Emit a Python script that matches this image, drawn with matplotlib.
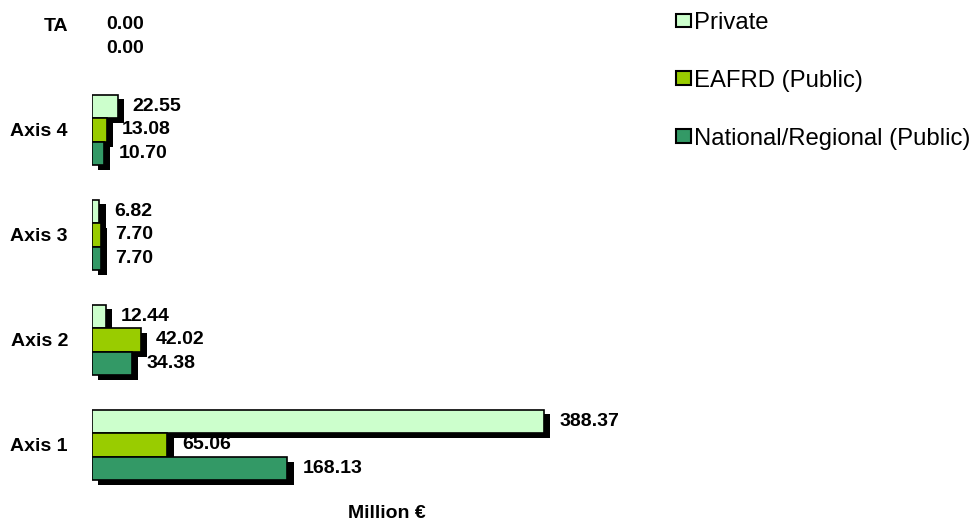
import numpy as np
import matplotlib
matplotlib.use("Agg")
import matplotlib.pyplot as plt
import matplotlib.patheffects as pe
from matplotlib.patches import Patch

plt.rcParams['font.family'] = ['Liberation Sans', 'DejaVu Sans']

categories = ["Axis 1", "Axis 2", "Axis 3", "Axis 4", "TA"]
series_names = ["Private", "EAFRD (Public)", "National/Regional (Public)"]
private = [388.37, 12.44, 6.82, 22.55, np.nan]
eafrd = [65.06, 42.02, 7.70, 13.08, 0.00]
national = [168.13, 34.38, 7.70, 10.70, 0.00]
colors = ["#CCFFCC", "#99CC00", "#339966"]
xlabel = "Million €"

fig = plt.figure(figsize=(9.77, 5.23), dpi=100)
ax = fig.add_axes([0.0937, 0.0488, 0.5724, 0.9536])

y = np.arange(len(categories))
h = 0.225
offsets = [h, 0.0, -h]
shadow = [pe.SimplePatchShadow(offset=(4.5, -3.5), shadow_rgbFace='black', alpha=1.0), pe.Normal()]

for vals, off, col in zip([private, eafrd, national], offsets, colors):
    v = np.array(vals, dtype=float)
    has = ~np.isnan(v)
    pos = has & (np.nan_to_num(v) > 0)
    bars = ax.barh(y[pos] + off, v[pos], height=h, color=col, edgecolor='black',
                   linewidth=1.2, zorder=3)
    for b in bars:
        b.set_path_effects(shadow)
    for yi, vi in zip(y[has] + off, v[has]):
        ax.annotate(f"{vi:.2f}", xy=(vi, yi), xytext=(15, 0), textcoords='offset pixels',
                    ha='left', va='center', fontsize=14, fontweight='bold', zorder=1)

ax.set_xlim(0, 480)
ax.set_ylim(-0.5, 4.25)
ax.set_yticks(y)
ax.set_yticklabels(categories, fontsize=14, fontweight='bold')
ax.tick_params(axis='y', length=0, pad=17)
ax.set_xticks([])
for s in ax.spines.values():
    s.set_visible(False)

fig.text(387 / 977, 1 - 513 / 523, xlabel, ha='center', va='center', fontsize=14, fontweight='bold')

handles = [Patch(facecolor=c, edgecolor='black', linewidth=1.5) for c in colors]
leg = fig.legend(handles, series_names, loc='upper left', bbox_to_anchor=(676 / 977, 1 - 12 / 523),
                 frameon=False, fontsize=17.2, handlelength=0.62, handleheight=0.52, handletextpad=0.15,
                 labelspacing=1.5, borderaxespad=0, borderpad=0)

fig.savefig("out.png", dpi=100)
